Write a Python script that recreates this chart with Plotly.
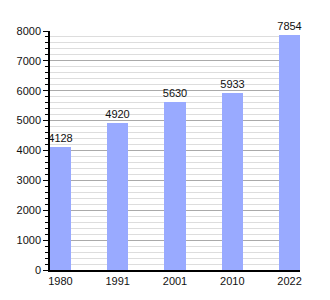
import plotly.graph_objects as go

years = ["1980", "1991", "2001", "2010", "2022"]
population = [4128, 4920, 5630, 5933, 7854]
y_ticks = [0, 1000, 2000, 3000, 4000, 5000, 6000, 7000, 8000]

fig = go.Figure(
    go.Bar(
        x=years,
        y=population,
        width=0.367,
        marker=dict(color="#99aaff", line=dict(width=0)),
        text=[str(v) for v in population],
        textposition="outside",
        constraintext="none",
        textfont=dict(family="Liberation Sans, Arial, sans-serif", size=11, color="#111"),
        cliponaxis=False,
    )
)

fig.update_layout(
    width=330,
    height=300,
    margin=dict(l=50, r=30, t=31, b=30),
    paper_bgcolor="white",
    plot_bgcolor="white",
    showlegend=False,
    font=dict(family="Liberation Sans, Arial, sans-serif", size=11, color="#111"),
    bargap=0,
)

fig.update_xaxes(
    type="category",
    range=[-0.183, 4.183],
    showline=True,
    linecolor="black",
    linewidth=1.5,
    ticks="",
    showgrid=False,
    zeroline=False,
    tickfont=dict(size=11),
)

fig.update_yaxes(
    range=[0, 8000],
    tickvals=y_ticks,
    ticktext=[str(v) for v in y_ticks],
    showline=True,
    linecolor="black",
    linewidth=1.5,
    ticks="outside",
    ticklen=5,
    tickcolor="black",
    showgrid=True,
    gridcolor="#aaaaaa",
    gridwidth=1,
    zeroline=False,
    tickfont=dict(size=11),
    minor=dict(
        dtick=200,
        showgrid=True,
        gridcolor="#dddddd",
        gridwidth=1,
        ticks="outside",
        ticklen=3,
        tickcolor="black",
    ),
)

fig.write_html("out.html")
